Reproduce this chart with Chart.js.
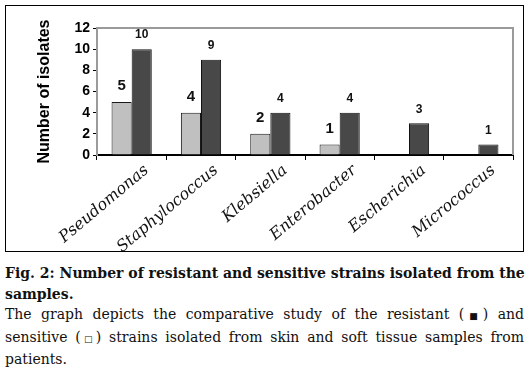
<!DOCTYPE html>
<html>
<head>
<meta charset="utf-8">
<script src="https://cdn.jsdelivr.net/npm/chart.js@4.4.1/dist/chart.umd.min.js"></script>
<style>
  html, body { margin: 0; padding: 0; background: #fff; }
  body { width: 528px; height: 368px; position: relative; overflow: hidden; }
  #box { position: absolute; left: 5px; top: 5px; width: 517px; height: 245px; border: 1px solid #000; }
  #box canvas { display: block; }
  #cap { position: absolute; left: 5px; top: 263px; width: 519px; font-family: "DejaVu Serif", "Liberation Serif", serif; font-size: 14px; line-height: 20.5px; color: #111; }
  #cap div { white-space: nowrap; }
  #cap .j { text-align: justify; text-align-last: justify; }
  #cap .b { font-weight: bold; }
  #cap .sq { font-family: "DejaVu Sans", sans-serif; font-size: 9px; letter-spacing: 0; }
</style>
</head>
<body>
<div id="box"><canvas id="c" width="517" height="245"></canvas></div>
<div id="cap">
  <div class="b j">Fig. 2: Number of resistant and sensitive strains isolated from the</div>
  <div class="b">samples.</div>
  <div class="j">The graph depicts the comparative study of the resistant (<span class="sq">■</span>) and</div>
  <div class="j">sensitive (<span class="sq">□</span>) strains isolated from skin and soft tissue samples from</div>
  <div>patients.</div>
</div>
<script>
const categories = ['Pseudomonas', 'Staphylococcus', 'Klebsiella', 'Enterobacter', 'Escherichia', 'Micrococcus'];
const sensitive = [5, 4, 2, 1, 0, 0];
const resistant = [10, 9, 4, 4, 3, 1];
const yTickValues = [0, 2, 4, 6, 8, 10, 12];
const yTitle = 'Number of isolates';

const frame = {
  id: 'frame',
  beforeDatasetsDraw(chart) {
    const {ctx, chartArea: a} = chart;
    ctx.save();
    ctx.strokeStyle = '#9a9a9a';
    ctx.lineWidth = 2;
    ctx.beginPath();
    ctx.moveTo(a.left, a.top);
    ctx.lineTo(a.right, a.top);
    ctx.lineTo(a.right, a.bottom);
    ctx.stroke();
    ctx.restore();
  }
};

const valueLabels = {
  id: 'valueLabels',
  afterDatasetsDraw(chart) {
    const {ctx} = chart;
    const fonts = ['bold 15px "Liberation Sans", Arial, sans-serif', 'bold 12px "Liberation Sans", Arial, sans-serif'];
    const offs = [16, 14];
    chart.data.datasets.forEach((ds, di) => {
      const meta = chart.getDatasetMeta(di);
      meta.data.forEach((bar, i) => {
        const v = ds.data[i];
        if (!v) return;
        ctx.save();
        ctx.font = fonts[di];
        ctx.fillStyle = '#111';
        ctx.textAlign = 'center';
        ctx.textBaseline = 'middle';
        ctx.fillText(String(v), bar.x, bar.y - offs[di]);
        ctx.restore();
      });
    });
  }
};

new Chart(document.getElementById('c'), {
  type: 'bar',
  data: {
    labels: categories,
    datasets: [
      { label: 'Sensitive', data: sensitive, backgroundColor: '#c0c0c0', borderColor: '#1a1a1a', borderWidth: 1, borderSkipped: 'bottom' },
      { label: 'Resistant', data: resistant, backgroundColor: '#484848', borderColor: '#111', borderWidth: 1, borderSkipped: 'bottom' }
    ]
  },
  options: {
    responsive: false,
    animation: false,
    events: [],
    layout: { padding: { top: 22, right: 10, left: 0, bottom: 0 } },
    plugins: { legend: { display: false }, tooltip: { enabled: false } },
    datasets: { bar: { categoryPercentage: 0.58, barPercentage: 1.0 } },
    scales: {
      x: {
        offset: true,
        grid: { offset: true, drawOnChartArea: false, tickLength: 5, color: '#000', lineWidth: 1 },
        border: { color: '#000', width: 2 },
        ticks: {
          autoSkip: false, minRotation: 40, maxRotation: 40, labelOffset: 15, padding: 1,
          color: '#111',
          font: { family: '"DejaVu Serif", serif', style: 'italic', size: 16 }
        },
        afterFit(s) { s.height = 96; }
      },
      y: {
        min: 0, max: 12,
        afterBuildTicks(s) { s.ticks = yTickValues.map(v => ({ value: v })); },
        grid: { drawOnChartArea: false, tickLength: 4, color: '#000' },
        border: { color: '#9a9a9a', width: 2 },
        ticks: { padding: 3, color: '#000', font: { family: '"Liberation Sans", Arial, sans-serif', weight: 'bold', size: 14 } },
        title: {
          display: true, text: yTitle, color: '#000',
          padding: { top: 29, bottom: 0 },
          font: { family: '"Liberation Sans", Arial, sans-serif', weight: 'bold', size: 16 }
        },
        afterFit(s) { s.width = 91; }
      }
    }
  },
  plugins: [frame, valueLabels]
});
</script>
</body>
</html>
